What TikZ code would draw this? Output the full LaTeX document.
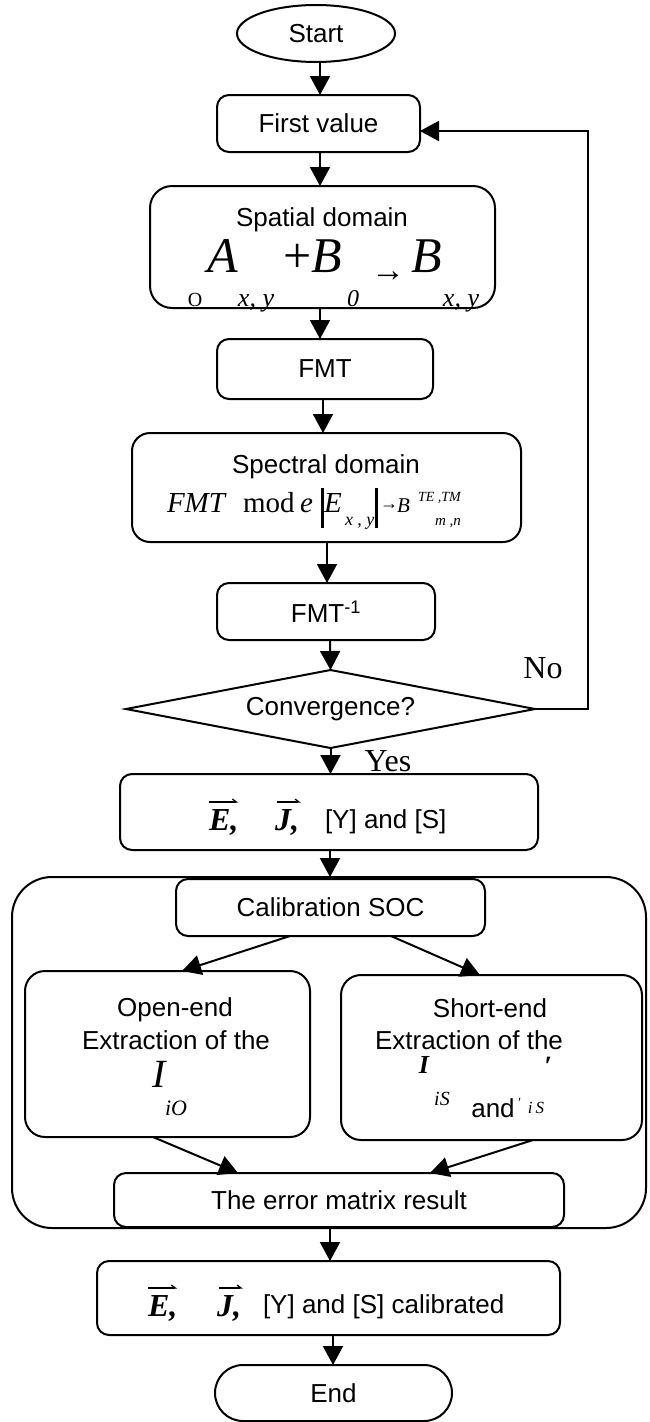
\documentclass[tikz,border=0pt]{standalone}
\usepackage{fontspec}
\setmainfont{Liberation Sans}
\newfontfamily\serifrm{Liberation Serif}
\usetikzlibrary{shapes.geometric,arrows.meta,calc}

\begin{document}
\begin{tikzpicture}[x=1pt,y=-1pt,
  every node/.style={inner sep=0pt,outer sep=0pt},
  sans/.style={font=\fontsize{26}{30}\selectfont},
  box/.style={draw,rectangle,rounded corners=12pt,line width=2pt,sans},
  arr/.style={line width=2pt,-{Triangle[width=20pt,length=19pt]}},
  vecbar/.style={line width=1.3pt,-{Straight Barb[left,length=4pt,width=6pt]}},
  rmf/.style={font=\fontsize{#1}{#1}\selectfont\serifrm},
  itf/.style={font=\fontsize{#1}{#1}\selectfont\serifrm\itshape},
  bif/.style={font=\fontsize{#1}{#1}\selectfont\serifrm\bfseries\itshape},
]
\useasboundingbox (0,0) rectangle (649,1422);

% ---- main chain ----
\node[draw,ellipse,line width=2pt,sans,minimum width=158pt,minimum height=57pt] (start) at (316,33.5) {Start};
\node[box,minimum width=203pt,minimum height=57pt] (first) at (318.5,123.5) {First value};

% spatial domain
\node[box,rounded corners=22pt,minimum width=345pt,minimum height=122pt] (spatial) at (322.5,247) {};
\node[sans] (spt) at (322,220) {Spatial domain};
\node[itf=50,anchor=base] (sA) at (223,272) {A};
\node[itf=50,anchor=base] (sB0) at (313,272) {{\upshape+}B};
\node[rmf=34] (sArr) at (388,277) {→};
\node[itf=50,anchor=base] (sB) at (427,272) {B};
\node[rmf=20,anchor=base] (sO) at (195,306) {O};
\node[itf=26,anchor=base] (sxy1) at (256,306) {x, y};
\node[itf=24,anchor=base] (s0) at (353,306) {0};
\node[itf=26,anchor=base] (sxy2) at (461,306) {x, y};

\node[box,minimum width=216pt,minimum height=60pt] (fmt) at (325,369) {FMT};

% spectral domain
\node[box,rounded corners=18pt,minimum width=389pt,minimum height=109pt] (spectral) at (326.5,487.5) {};
\node[sans] (spc) at (326,467) {Spectral domain};
\node[itf=29,anchor=base west] (qF) at (167,512) {FMT};
\node[rmf=29,anchor=base west] (qmod) at (243,512) {mod};
\node[itf=29,anchor=base west] (qe) at (300,512) {e};
\draw[line width=3pt] (322,488) -- (322,528);
\node[itf=29,anchor=base west] (qE) at (324,512) {E};
\node[itf=18,anchor=base west] (qxy) at (345,525) {x , y};
\draw[line width=3pt] (376,488) -- (376,528);
\node[rmf=18] (qarr) at (389,507) {→};
\node[itf=21,anchor=base west] (qB) at (397,512) {B};
\node[itf=14,anchor=base west] (qTE) at (418,501) {TE ,TM};
\node[itf=15,anchor=base west] (qmn) at (435,525) {m ,n};

\node[box,minimum width=218pt,minimum height=57pt] (fmti) at (326,611.5) {FMT\textsuperscript{-1}};

\node[draw,diamond,shape aspect=5.24,line width=2pt,sans,minimum width=409pt,minimum height=78pt] (conv) at (330.5,709) {Convergence?};
\node[rmf=32] (nolbl) at (543,668) {No};
\node[rmf=32] (yeslbl) at (388,761) {Yes};

% fields and parameters
\node[box,minimum width=418pt,minimum height=76pt] (ej) at (329,812) {};
\node[bif=32,anchor=base west] (ejE) at (209,830) {E,};
\node[bif=32,anchor=base west] (ejJ) at (275,830) {J,};
\draw[vecbar] ([yshift=7pt]ejE.north west) -- ([yshift=7pt]ejE.north east);
\draw[vecbar] ([xshift=2pt,yshift=7pt]ejJ.north west) -- ([xshift=2pt,yshift=7pt]ejJ.north east);
\node[sans,anchor=base west] (ejt) at (325,828) {[Y] and [S]};

% calibration block
\node[draw,rectangle,rounded corners=40pt,line width=2pt,minimum width=634pt,minimum height=351pt] (outer) at (329,1052.5) {};
\node[box,minimum width=309pt,minimum height=57pt] (calib) at (330.5,907.5) {Calibration SOC};

\node[box,rounded corners=20pt,minimum width=285pt,minimum height=166pt] (open) at (167.5,1054) {};
\node[sans] (op1) at (175,1010) {Open-end};
\node[sans] (op2) at (176,1040) {Extraction of the};
\node[itf=40,anchor=base] (opI) at (159,1087) {I};
\node[itf=22,anchor=base] (opi) at (176,1115) {iO};

\node[box,rounded corners=20pt,minimum width=301pt,minimum height=165pt] (short) at (491.5,1057.5) {};
\node[sans] (sh1) at (490,1008) {Short-end};
\node[sans] (sh2) at (469,1040) {Extraction of the};
\node[bif=26] (shI) at (424,1065) {I};
\node[bif=28] (shp) at (548,1066) {\symbol{"2032}};
\node[itf=20,anchor=base] (shi) at (442,1105) {iS};
\node[sans,anchor=base] (shand) at (493,1117) {and};
\node[itf=14] (shp2) at (519,1103) {\symbol{"2032}};
\node[itf=17,anchor=base] (shi2) at (536,1113) {i\,S};

\node[box,minimum width=450pt,minimum height=54pt] (err) at (339,1200) {The error matrix result};

\node[box,minimum width=463pt,minimum height=74pt] (cal) at (328.5,1298) {};
\node[bif=32,anchor=base west] (calE) at (148,1316) {E,};
\node[bif=32,anchor=base west] (calJ) at (217,1316) {J,};
\draw[vecbar] ([yshift=7pt]calE.north west) -- ([yshift=7pt]calE.north east);
\draw[vecbar] ([xshift=2pt,yshift=7pt]calJ.north west) -- ([xshift=2pt,yshift=7pt]calJ.north east);
\node[sans,anchor=base west] (calt) at (263,1313) {[Y] and [S] calibrated};

\node[box,rounded corners=28pt,minimum width=237pt,minimum height=56pt] (end) at (333.5,1393) {End};

% ---- connectors ----
\draw[arr] ([xshift=4pt]start.south) -- ([xshift=4pt]start.south |- first.north);
\draw[arr] ([xshift=1.5pt]first.south) -- ([xshift=1.5pt]first.south |- spatial.north);
\draw[arr] ([xshift=-2.5pt]spatial.south) -- ([xshift=-2.5pt]spatial.south |- fmt.north);
\draw[arr] ([xshift=-2pt]fmt.south) -- ([xshift=-2pt]fmt.south |- spectral.north);
\draw[arr] ([xshift=0.5pt]spectral.south) -- ([xshift=0.5pt]spectral.south |- fmti.north);
\draw[arr] ([xshift=4pt]fmti.south) -- (conv.north);
\draw[arr] (conv.south) -- (conv.south |- ej.north);
\draw[arr] ([xshift=1pt]ej.south) -- ([xshift=1pt]ej.south |- outer.north);

\coordinate (lpA) at (588,709);
\coordinate (lpB) at (588,131);
\draw[arr] (conv.east) -- (lpA) -- (lpB) -- (first.east |- lpB);

\draw[arr] ([xshift=-40.5pt]calib.south) -- ([xshift=14.5pt]open.north);
\draw[arr] ([xshift=60.5pt]calib.south) -- ([xshift=-11.5pt]short.north);
\draw[arr] ([xshift=-14.5pt]open.south) -- ([xshift=-101pt]err.north);
\draw[arr] ([xshift=41.5pt]short.south) -- ([xshift=91pt]err.north);

\draw[arr] ([xshift=-9pt]err.south) -- ([xshift=-9pt]err.south |- cal.north);
\draw[arr] ([xshift=4.5pt]cal.south) -- ([xshift=4.5pt]cal.south |- end.north);
\end{tikzpicture}
\end{document}
